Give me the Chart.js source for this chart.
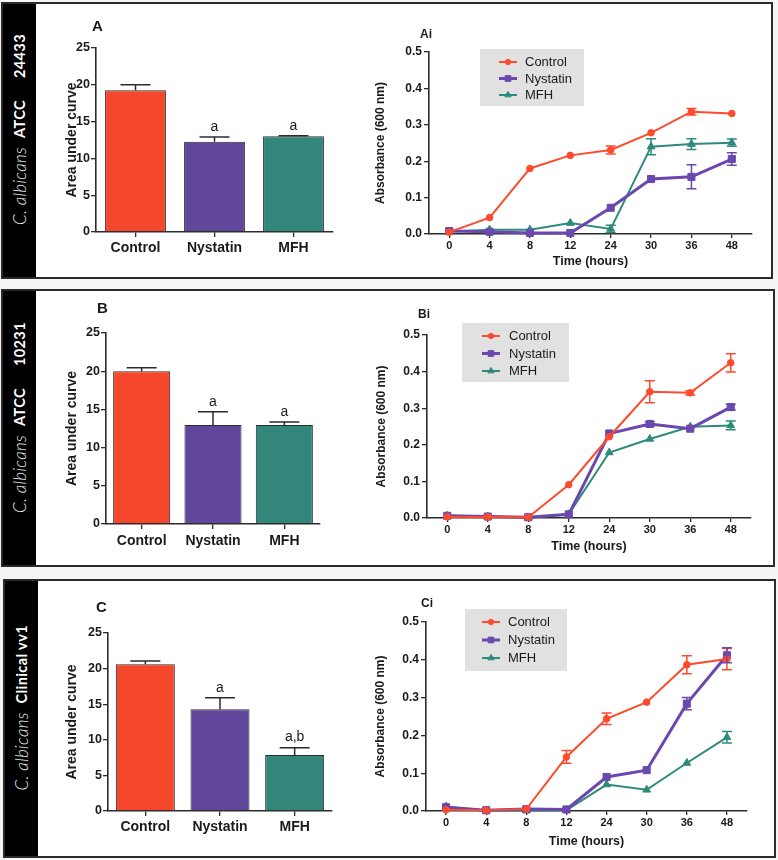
<!DOCTYPE html>
<html>
<head>
<meta charset="utf-8">
<script src="https://cdn.jsdelivr.net/npm/chart.js@4.4.1/dist/chart.umd.min.js"></script>
<style>
    body { margin: 0; width: 778px; height: 860px; position: relative; overflow: hidden; background: #f5f5f5; font-family: "Liberation Sans", Arial, sans-serif; }
    .panel { position: absolute; background: #fff; border: 2px solid #2a2a2a; box-sizing: border-box; }
    .side { position: absolute; left: 0; top: 0; bottom: 0; width: 33px; background: #000; display: flex; align-items: center; justify-content: center; }
    .side .lab { writing-mode: vertical-rl; transform: rotate(180deg); color: #fff; white-space: nowrap; position: relative; top: -6px; }
    .lab i { font-family: Lato, "DejaVu Sans", sans-serif; font-weight: 300; font-size: 17px; color: #ececec; letter-spacing: 0.3px; margin-top: 9px; }
    .lab b { font-family: Lato, "DejaVu Sans", sans-serif; font-weight: bold; font-size: 14.5px; letter-spacing: 0.4px; }
    .lab .gap { display: inline-block; height: 22px; }
    canvas { position: absolute; }
</style>
</head>
<body>
<div class="panel" style="left:1px;top:2px;width:772px;height:277px">
    <div class="side"><span class="lab"><i>C. albicans</i>&nbsp;&nbsp;<b>ATCC</b><span class="gap"></span><b>24433</b></span></div>
</div>
<div class="panel" style="left:1px;top:289px;width:774px;height:278px">
    <div class="side"><span class="lab"><i>C. albicans</i>&nbsp;&nbsp;<b>ATCC</b><span class="gap"></span><b>10231</b></span></div>
</div>
<div class="panel" style="left:3px;top:579px;width:773px;height:279px">
    <div class="side"><span class="lab"><i>C. albicans</i>&nbsp;&nbsp;<b>Clinical vv1</b></span></div>
</div>
<script>
document.addEventListener("DOMContentLoaded", init);

/* ------------------- data ------------------ */

const groups = ["Control", "Nystatin", "MFH"];
const hours = ["0", "4", "8", "12", "24", "30", "36", "48"];

// area under curve (bar panels)
const aucA = [19.25, 12.25, 13.0];
const aucAErr = [0.75, 0.65, 0.07];
const sigA = ["", "a", "a"];

const aucB = [20.0, 12.95, 12.95];
const aucBErr = [0.45, 1.75, 0.4];
const sigB = ["", "a", "a"];

const aucC = [20.6, 14.3, 7.85];
const aucCErr = [0.45, 1.6, 1.05];
const sigC = ["", "a", "a,b"];

// absorbance time courses (line panels)
const ctrlA = [0.005, 0.045, 0.180, 0.216, 0.231, 0.278, 0.336, 0.331];
const ctrlAErr = [0, 0, 0, 0, 0.011, 0, 0.009, 0];
const nysA = [0.008, 0.006, 0.003, 0.003, 0.072, 0.151, 0.157, 0.206];
const nysAErr = [0, 0, 0, 0, 0, 0, 0.033, 0.017];
const mfhA = [0.007, 0.012, 0.012, 0.030, 0.014, 0.240, 0.247, 0.251];
const mfhAErr = [0, 0, 0, 0, 0.010, 0.022, 0.015, 0.010];

const ctrlB = [0.003, 0.003, 0.002, 0.091, 0.222, 0.345, 0.342, 0.424];
const ctrlBErr = [0, 0, 0, 0, 0, 0.030, 0.006, 0.025];
const nysB = [0.006, 0.004, 0.002, 0.010, 0.231, 0.257, 0.244, 0.303];
const nysBErr = [0, 0, 0, 0, 0, 0.006, 0, 0.008];
const mfhB = [0.006, 0.004, 0.001, 0.010, 0.179, 0.216, 0.249, 0.253];
const mfhBErr = [0, 0, 0, 0, 0, 0, 0, 0.012];

const ctrlC = [0.003, 0.002, 0.005, 0.143, 0.244, 0.288, 0.387, 0.402];
const ctrlCErr = [0, 0, 0, 0.017, 0.015, 0, 0.024, 0.028];
const nysC = [0.010, 0.002, 0.005, 0.004, 0.090, 0.108, 0.284, 0.412];
const nysCErr = [0, 0, 0, 0, 0, 0, 0.016, 0.020];
const mfhC = [0.012, 0.001, 0.001, 0.002, 0.070, 0.056, 0.127, 0.195];
const mfhCErr = [0, 0, 0, 0, 0, 0, 0, 0.015];

/* ------------------- styles ------------------ */

const barColors = ["#f5472b", "#60479b", "#33877a"];
const lineColors = ["#ff4a2e", "#6a48ad", "#2e8b7b"];
const markers = ["circle", "rect", "triangle"];
const markerSize = [3.3, 5, 4.5];
const lineWidths = [2, 3, 2];
const axisColor = "#2b2b2b";
const textColor = "#1a1a1a";

function init() {
    Chart.defaults.font.family = '"Liberation Sans", Arial, sans-serif';
    Chart.defaults.color = textColor;

    makeBar({ x: 40, y: 8, w: 332, h: 262 }, { l: 96, t: 48, r: 333, b: 232 }, {
        values: aucA, errors: aucAErr, sig: sigA, barPct: 0.77, catPad: 3, titleX: 72,
        letter: { text: "A", dx: -4, dy: -21, size: 15 }
    });
    makeLine({ x: 372, y: 8, w: 398, h: 264 }, { l: 429, t: 52, r: 752, b: 234 }, {
        series: [ctrlA, nysA, mfhA], errors: [ctrlAErr, nysAErr, mfhAErr],
        titleX: 381, titleY: 262,
        legend: { dx: 51, dy: -3, w: 104, h: 57, lineX: 19, textX: 45, rowTop: 13, rowGap: 16.5 },
        letter: { text: "Ai", dx: -9, dy: -17, size: 12 }
    });

    makeBar({ x: 40, y: 295, w: 332, h: 265 }, { l: 106, t: 333, r: 320, b: 524 }, {
        values: aucB, errors: aucBErr, sig: sigB, barPct: 0.8, catPad: 4, titleX: 72,
        letter: { text: "B", dx: -9, dy: -24, size: 15 }
    });
    makeLine({ x: 372, y: 295, w: 398, h: 267 }, { l: 427, t: 335, r: 751, b: 518 }, {
        series: [ctrlB, nysB, mfhB], errors: [ctrlBErr, nysBErr, mfhBErr],
        titleX: 382, titleY: 547,
        legend: { dx: 35, dy: -12, w: 107, h: 59, lineX: 20, textX: 47, rowTop: 13, rowGap: 17.5 },
        letter: { text: "Bi", dx: -9, dy: -20, size: 12 }
    });

    makeBar({ x: 40, y: 585, w: 332, h: 267 }, { l: 108, t: 633, r: 332, b: 811 }, {
        values: aucC, errors: aucCErr, sig: sigC, barPct: 0.79, catPad: 3, titleX: 72,
        letter: { text: "C", dx: -12, dy: -25, size: 15 }
    });
    makeLine({ x: 372, y: 585, w: 398, h: 269 }, { l: 426, t: 622, r: 747, b: 811 }, {
        series: [ctrlC, nysC, mfhC], errors: [ctrlCErr, nysCErr, mfhCErr],
        titleX: 381, titleY: 842,
        legend: { dx: 39, dy: -13, w: 102, h: 62, lineX: 17, textX: 43, rowTop: 13, rowGap: 18 },
        letter: { text: "Ci", dx: -5, dy: -18, size: 12 }
    });
}

/* ------------------- helpers ------------------ */

function addCanvas(box) {
    const c = document.createElement("canvas");
    c.width = box.w;
    c.height = box.h;
    c.style.left = box.x + "px";
    c.style.top = box.y + "px";
    c.style.width = box.w + "px";
    c.style.height = box.h + "px";
    document.body.appendChild(c);
    return c;
}

// pins the plot area to page pixels: padding for top/right, fixed axis boxes for left/bottom
function fitArea(box, area) {
    return {
        padding: { left: 0, bottom: 0, top: area.t - box.y, right: box.x + box.w - area.r },
        yWidth: area.l - box.x,
        xHeight: box.y + box.h - area.b
    };
}

function axisGrid(tickLength) {
    return { display: true, drawOnChartArea: false, drawTicks: true, tickLength, color: axisColor, lineWidth: 1.3, offset: false };
}

/* ------------------- plugins ------------------ */

const errorBarsPlugin = {
    id: "errorBars",
    afterDatasetsDraw(chart, args, opts) {
        const ctx = chart.ctx;
        const yScale = chart.scales.y;
        chart.data.datasets.forEach((ds, i) => {
            if (!ds.errors) return;
            const meta = chart.getDatasetMeta(i);
            meta.data.forEach((el, j) => {
                const v = ds.data[j];
                const e = ds.errors[j];
                const top = yScale.getPixelForValue(v + e);
                if (e) {
                    const bot = opts.upOnly ? el.y : yScale.getPixelForValue(v - e);
                    const half = opts.cap / 2;
                    ctx.save();
                    ctx.strokeStyle = opts.color || ds.borderColor;
                    ctx.lineWidth = opts.width;
                    ctx.beginPath();
                    ctx.moveTo(el.x, bot);
                    ctx.lineTo(el.x, top);
                    ctx.moveTo(el.x - half, top);
                    ctx.lineTo(el.x + half, top);
                    if (!opts.upOnly) {
                        ctx.moveTo(el.x - half, bot);
                        ctx.lineTo(el.x + half, bot);
                    }
                    ctx.stroke();
                    ctx.restore();
                }
                if (ds.sig && ds.sig[j]) {
                    ctx.save();
                    ctx.fillStyle = textColor;
                    ctx.font = '14px "Liberation Sans", Arial, sans-serif';
                    ctx.textAlign = "center";
                    ctx.textBaseline = "middle";
                    ctx.fillText(ds.sig[j], el.x, Math.min(top, el.y) - 10);
                    ctx.restore();
                }
            });
        });
    }
};

const panelLetterPlugin = {
    id: "panelLetter",
    afterDraw(chart, args, opts) {
        const a = chart.chartArea;
        const ctx = chart.ctx;
        ctx.save();
        ctx.fillStyle = textColor;
        ctx.font = `bold ${opts.size}px "Liberation Sans", Arial, sans-serif`;
        ctx.textAlign = "left";
        ctx.textBaseline = "middle";
        ctx.fillText(opts.text, a.left + opts.dx, a.top + opts.dy);
        ctx.restore();
    }
};

const boxLegendPlugin = {
    id: "boxLegend",
    afterDraw(chart, args, opts) {
        const a = chart.chartArea;
        const ctx = chart.ctx;
        const x = a.left + opts.dx;
        const y = a.top + opts.dy;
        ctx.save();
        ctx.fillStyle = "#e1e1e1";
        ctx.fillRect(x, y, opts.w, opts.h);
        chart.data.datasets.forEach((ds, i) => {
            const cy = y + opts.rowTop + i * opts.rowGap;
            const lx = x + opts.lineX;
            ctx.strokeStyle = ds.borderColor;
            ctx.lineWidth = ds.borderWidth;
            ctx.beginPath();
            ctx.moveTo(lx, cy);
            ctx.lineTo(lx + 18, cy);
            ctx.stroke();
            ctx.fillStyle = ds.backgroundColor;
            ctx.lineWidth = 1;
            Chart.helpers.drawPoint(ctx, { pointStyle: ds.pointStyle, radius: ds.pointRadius * 0.8, rotation: 0, borderWidth: 1 }, lx + 9, cy);
            ctx.fillStyle = textColor;
            ctx.font = '13px "Liberation Sans", Arial, sans-serif';
            ctx.textAlign = "left";
            ctx.textBaseline = "middle";
            ctx.fillText(ds.label, x + opts.textX, cy + 0.5);
        });
        ctx.restore();
    }
};

/* ------------------- charts ------------------ */

function makeBar(box, area, opts) {
    const f = fitArea(box, area);
    new Chart(addCanvas(box), {
        type: "bar",
        data: {
            labels: groups,
            datasets: [{
                data: opts.values,
                errors: opts.errors,
                sig: opts.sig,
                backgroundColor: barColors,
                borderColor: "#2b2b2b",
                borderWidth: 1,
                barPercentage: opts.barPct,
                categoryPercentage: 1
            }]
        },
        options: {
            responsive: false,
            animation: false,
            events: [],
            layout: { padding: f.padding },
            plugins: {
                legend: { display: false },
                tooltip: { enabled: false },
                errorBars: { upOnly: true, cap: 30, width: 1.5, color: "#2b2b2b" },
                panelLetter: opts.letter
            },
            scales: {
                x: {
                    grid: axisGrid(5),
                    border: { display: true, color: axisColor, width: 1.6 },
                    ticks: { font: { size: 14, weight: "bold" }, padding: opts.catPad, color: textColor },
                    afterFit: (s) => { s.height = f.xHeight; }
                },
                y: {
                    min: 0,
                    max: 25,
                    grid: axisGrid(5),
                    border: { display: true, color: axisColor, width: 1.6 },
                    ticks: { stepSize: 5, font: { size: 12.5, weight: "bold" }, padding: 1, color: textColor },
                    title: {
                        display: true,
                        text: "Area under curve",
                        font: { size: 14, weight: "bold" },
                        color: textColor,
                        padding: { top: opts.titleX - box.x - 8.4, bottom: 0 }
                    },
                    afterFit: (s) => { s.width = f.yWidth; }
                }
            }
        },
        plugins: [errorBarsPlugin, panelLetterPlugin]
    });
}

function makeLine(box, area, opts) {
    const f = fitArea(box, area);
    const datasets = opts.series.map((vals, i) => ({
        label: groups[i],
        data: vals,
        errors: opts.errors[i],
        borderColor: lineColors[i],
        backgroundColor: lineColors[i],
        borderWidth: lineWidths[i],
        pointStyle: markers[i],
        pointRadius: markerSize[i],
        pointBorderWidth: 1,
        tension: 0,
        clip: false
    }));
    new Chart(addCanvas(box), {
        type: "line",
        data: { labels: hours, datasets },
        options: {
            responsive: false,
            animation: false,
            events: [],
            layout: { padding: f.padding },
            plugins: {
                legend: { display: false },
                tooltip: { enabled: false },
                errorBars: { upOnly: false, cap: 10, width: 1.5 },
                boxLegend: opts.legend,
                panelLetter: opts.letter
            },
            scales: {
                x: {
                    type: "category",
                    offset: true,
                    grid: axisGrid(4),
                    border: { display: true, color: axisColor, width: 1.6 },
                    ticks: { font: { size: 11, weight: "bold" }, padding: 1, color: textColor },
                    title: {
                        display: true,
                        text: "Time (hours)",
                        font: { size: 12.5, weight: "bold" },
                        color: textColor,
                        padding: { top: 0, bottom: box.y + box.h - opts.titleY - 7.5 }
                    },
                    afterFit: (s) => { s.height = f.xHeight; }
                },
                y: {
                    min: 0,
                    max: 0.5,
                    grid: axisGrid(5),
                    border: { display: true, color: axisColor, width: 1.6 },
                    ticks: { stepSize: 0.1, font: { size: 12, weight: "bold" }, padding: 2, color: textColor, callback: (v) => v.toFixed(1) },
                    title: {
                        display: true,
                        text: "Absorbance (600 nm)",
                        font: { size: 12, weight: "bold" },
                        color: textColor,
                        padding: { top: opts.titleX - box.x - 7.2, bottom: 0 }
                    },
                    afterFit: (s) => { s.width = f.yWidth; }
                }
            }
        },
        plugins: [errorBarsPlugin, boxLegendPlugin, panelLetterPlugin]
    });
}
</script>
</body>
</html>
